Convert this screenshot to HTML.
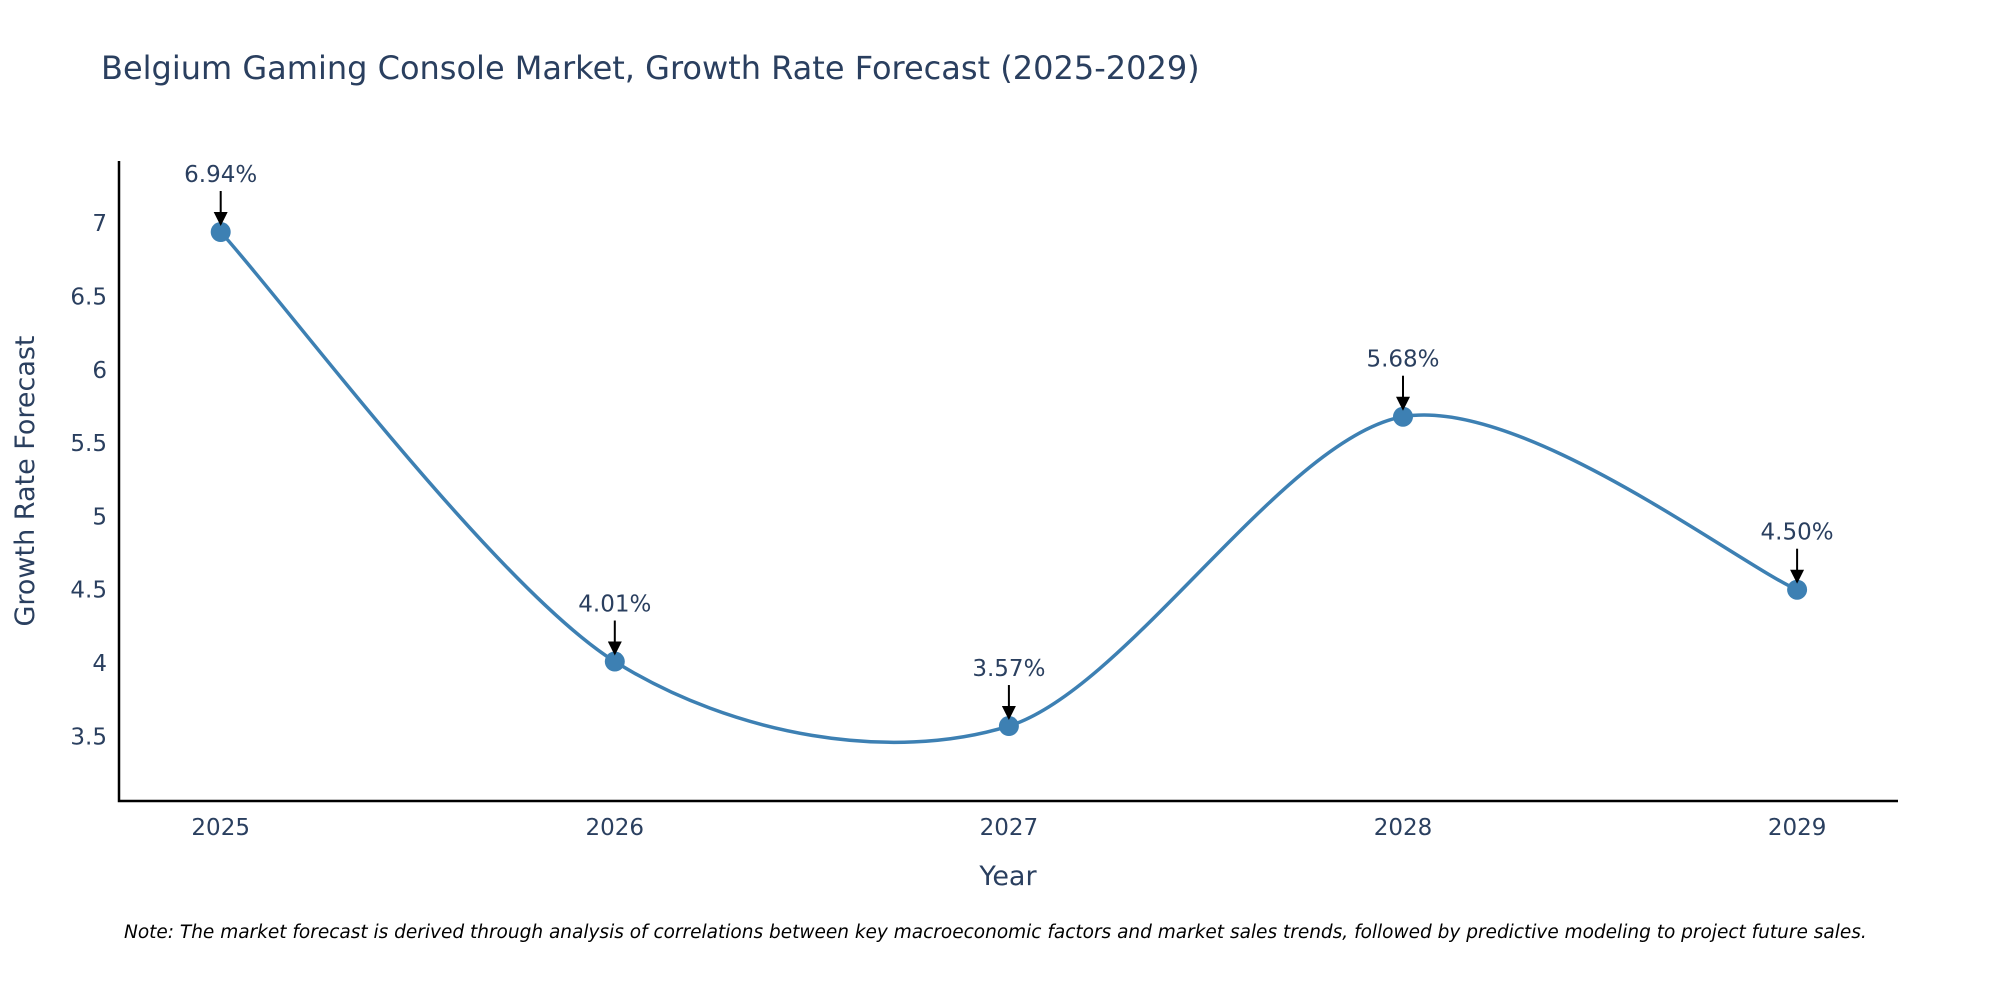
<!DOCTYPE html>
<html><head><meta charset="utf-8"><style>
body{margin:0;background:#fff;overflow:hidden;}
svg text{font-family:"DejaVu Sans","Liberation Sans",sans-serif;fill:#2a3f5f;}
</style></head><body>
<svg id="chart" width="2000" height="1000" xmlns="http://www.w3.org/2000/svg">
<rect width="2000" height="1000" fill="#fff"/>
<text x="101" y="79" font-size="32">Belgium Gaming Console Market, Growth Rate Forecast (2025-2029)</text>
<g id="plot"></g>
<text x="1008" y="885" font-size="27" text-anchor="middle">Year</text>
<text transform="translate(34,481) rotate(-90)" font-size="27" text-anchor="middle">Growth Rate Forecast</text>
<text x="124" y="938" font-size="18.5" font-style="italic" style="fill:#000">Note: The market forecast is derived through analysis of correlations between key macroeconomic factors and market sales trends, followed by predictive modeling to project future sales.</text>
</svg>
<script>
const years=[2025,2026,2027,2028,2029];
const values=[6.94,4.01,3.57,5.68,4.50];
const yTicks=[3.5,4,4.5,5,5.5,6,6.5,7];
const yTickLabels=["3.5","4","4.5","5","5.5","6","6.5","7"];
const NS="http://www.w3.org/2000/svg";
const L=119,R=1898,T=161,B=801;
const x=i=>220.7+i*394.1;
const y=v=>223.2+(7-v)*146.6;
const g=document.getElementById('plot');
function mk(t,a){const e=document.createElementNS(NS,t);for(const k in a)e.setAttribute(k,a[k]);g.appendChild(e);return e;}
const defs=mk('defs',{});
defs.innerHTML='<marker id="ah" markerWidth="14" markerHeight="14" refX="12" refY="7" orient="auto" markerUnits="userSpaceOnUse"><path d="M0,0 L14,7 L0,14 z" fill="#000"/></marker>';
let ax=mk('path',{d:`M${L},${T} V${B} H${R}`,stroke:'#000','stroke-width':2.5,fill:'none'});


yTicks.forEach((v,i)=>{const t=mk('text',{x:L-12,y:y(v)+8,'font-size':23,'text-anchor':'end'});t.textContent=yTickLabels[i];

});
years.forEach((yr,i)=>{const t=mk('text',{x:x(i),y:835,'font-size':23,'text-anchor':'middle'});t.textContent=yr;

});
const P=values.map((v,i)=>[x(i),y(v)]);
let d=`M${P[0][0]},${P[0][1]}`;const k=0.15;
for(let i=0;i<P.length-1;i++){const p0=P[Math.max(i-1,0)],p1=P[i],p2=P[i+1],p3=P[Math.min(i+2,P.length-1)];
d+=` C${p1[0]+(p2[0]-p0[0])*k},${p1[1]+(p2[1]-p0[1])*k} ${p2[0]-(p3[0]-p1[0])*k},${p2[1]-(p3[1]-p1[1])*k} ${p2[0]},${p2[1]}`;}
const line=mk('path',{d,stroke:'#3d80b3','stroke-width':3.5,fill:'none'});


P.forEach((p,i)=>{const c=mk('circle',{cx:p[0],cy:p[1],r:10,fill:'#3d80b3'});


const a=mk('line',{x1:p[0],y1:p[1]-41,x2:p[0],y2:p[1]-8,stroke:'#000','stroke-width':2,'marker-end':'url(#ah)'});


const t=mk('text',{x:p[0],y:p[1]-50,'font-size':23,'text-anchor':'middle'});t.textContent=values[i].toFixed(2)+'%';

});
</script>
</body></html>
